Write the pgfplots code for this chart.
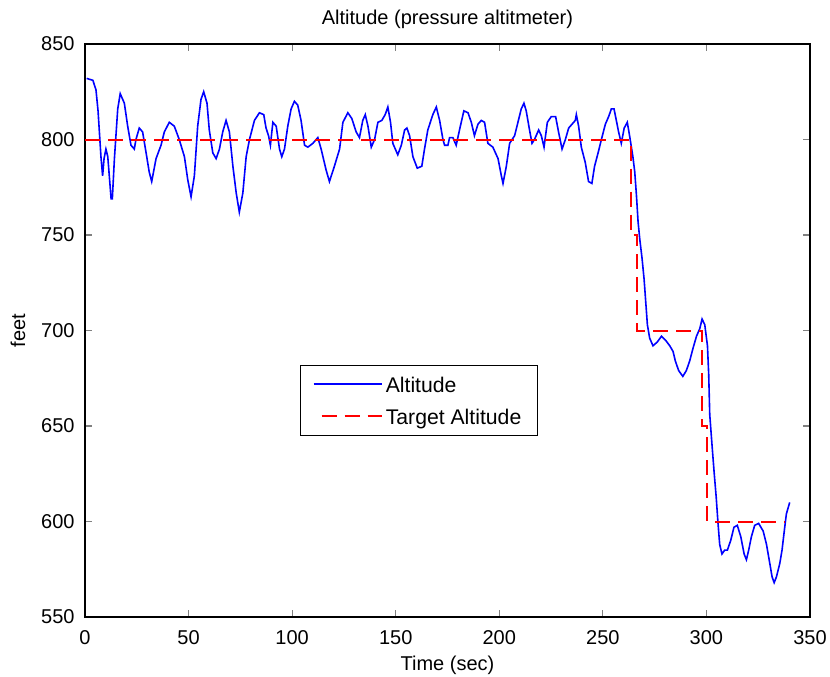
\documentclass[border=0pt]{standalone}
\usepackage{pgfplots}
\pgfplotsset{compat=1.18}
\usepackage{fontspec}
\setmainfont{Liberation Sans}
\definecolor{mblue}{RGB}{0,0,255}
\definecolor{mred}{RGB}{255,0,0}
\begin{document}
\fontsize{10}{12}\selectfont
\begin{tikzpicture}
\useasboundingbox (-42.5pt,-29.5pt) rectangle (372.5pt,308.5pt);
\begin{axis}[
  at={(0,0)}, anchor=south west,
  scale only axis, width=362.5pt, height=286.5pt,
  xmin=0, xmax=350, ymin=550, ymax=850,
  xtick={0,50,...,350}, ytick={550,600,...,850},
  /pgf/number format/assume math mode=true,
  /pgf/number format/1000 sep={},
  tick align=inside, major tick length=3.5pt,
  tick style={line width=0.6pt},
  axis line style={line width=0.6pt},
  xticklabel style={anchor=base, yshift=-13.7pt},
  yticklabel style={xshift=-1.7pt},
  title={Altitude (pressure altitmeter)},
  title style={at={(0.5,1)}, anchor=base, yshift=3.9pt, inner sep=0pt},
  xlabel={Time (sec)},
  xlabel style={at={(0.5,0)}, anchor=base, yshift=-26.6pt, inner sep=0pt},
  ylabel={feet},
  ylabel style={at={(-0.0924,0.5)}, anchor=center, inner sep=0pt},
  legend style={at={(0.296,0.44)}, anchor=north west,
    inner xsep=6.3pt, inner ysep=1.5pt, row sep=0pt,
    nodes={inner sep=1.6pt, text height=10.5pt, text depth=2.3pt, font=\fontsize{10.6}{12}\selectfont}},
  legend cell align=left,
]
\addplot[draw=mblue, line width=0.8pt, legend image code/.code={\draw[draw=mblue, line width=0.8pt] (0pt,0pt) -- (34pt,0pt);}] coordinates {
(0.8,832)(3.8,831)(5.3,826)(6.3,815)(7.7,791)(8.5,781)(9.2,790)(10.1,795)(11,791)(12.6,769)(13.2,769)
(14.2,790)(15.8,816)(17,824)(19,819)(20.6,807)(22.2,797)(23.8,795)(24.6,800)(26.2,806)(27.8,804)
(29.5,793)(31,783)(32.2,778)(34.3,790)(36.7,797)(38.3,804)(40.7,809)(43.1,807)(45.5,800)(48,791)
(49.6,779)(51.2,770)(52.8,781)(54.4,807)(56,821)(57.3,825)(58.9,819)(60,805)(61.7,793)(63.3,790)
(64.9,795)(66.5,804)(68.1,810)(69.7,804)(71.4,786)(73,772)(74.5,762)(76.2,772)(77.8,791)(79.4,800)
(81.8,810)(84.2,814)(86.3,813)(87.4,806)(88.6,802)(89.5,797)(90.7,809)(92.3,807)(93.9,795)(95,791)
(96.3,795)(97.9,807)(99.5,816)(101.1,820)(102.7,818)(104.3,810)(106,797)(107.6,796)(110,798)
(112.4,801)(114,795)(116.4,784)(118,778)(120.4,786)(122.9,795)(124.5,809)(126.9,814)(128.8,811)
(130.9,804)(132.5,801)(134.1,810)(135.3,813)(136.6,807)(138.2,796)(139.8,800)(141.4,809)(143.3,810)
(144.9,813)(146.2,817)(147.5,809)(148.6,798)(151,792)(152.7,797)(154.3,805)(155.4,806)(156.7,802)
(158.3,791)(160.4,785)(162.6,786)(163.9,795)(165.5,805)(167.9,813)(169.6,817)(171.2,810)(172.8,800)
(173.6,797)(175.2,797)(176,801)(177.6,801)(179.2,797)(181,806)(182.9,815)(184.9,814)(186.5,809)
(188,802)(189.7,808)(191.3,810)(192.9,809)(194.5,798)(196.9,796)(199.4,790)(201,781)(201.8,777)
(203.4,786)(205,798)(207.4,802)(209,809)(210.6,816)(211.9,819)(213,815)(214.6,805)(215.8,798)
(217,800)(219,805)(220.3,802)(221.6,796)(223.2,809)(225.1,812)(227.2,812)(228.6,804)(230.3,795)
(231.9,800)(233.5,806)(235.1,808)(236.7,810)(237.2,813)(238.3,807)(239.6,796)(241.5,788)(243.1,778)
(244.7,777)(246,786)(247.7,793)(249.3,800)(251.2,808)(252.8,812)(254.1,816)(255.4,816)(256.5,810)
(257.6,804)(258.9,798)(260.3,806)(261.8,809)(262.9,802)(264.5,791)(265.4,783)(266.2,771)(267,757)
(267.8,748)(268.9,738)(269.9,727)(270.7,715)(271.5,703)(272.6,696)(274.2,692)(276.3,694)(278.3,697)
(280.2,695)(282.3,692)(283.9,689)(285,684)(286.6,679)(288.6,676)(290.3,679)(291.9,684)(293.6,691)
(295.2,697)(296.8,701)(297.9,706)(299.2,703)(300.5,692)(301.1,677)(301.6,656)(302.7,640)(303.7,626)
(304.7,613)(305.6,599)(306.4,588)(307.5,583)(308.8,585)(310.1,585)(311.7,590)(313.3,597)(314.9,598)
(316.6,592)(318.2,583)(319.3,580)(320.4,585)(321.7,592)(323.3,598)(325.2,599)(327.4,595)(329,588)
(330.6,578)(331.7,571)(332.7,568)(333.8,571)(335.4,578)(336.5,585)(337.8,597)(338.6,604)(340.2,610)
};
\addlegendentry{Altitude}
\addplot[draw=mred, line width=1.0pt, dash pattern=on 7.5pt off 4pt, legend image code/.code={\draw[draw=mred, line width=1.0pt, dash pattern=on 7.5pt off 4pt, dash phase=-4pt] (0pt,0pt) -- (34pt,0pt);}] coordinates {
(0,800)(263.5,800)(263.5,750)(266.5,750)(266.5,700)(298,700)(298,650)(300.5,650)(300.5,600)(338,600)
};
\addlegendentry{Target Altitude}
\end{axis}
\end{tikzpicture}
\end{document}
